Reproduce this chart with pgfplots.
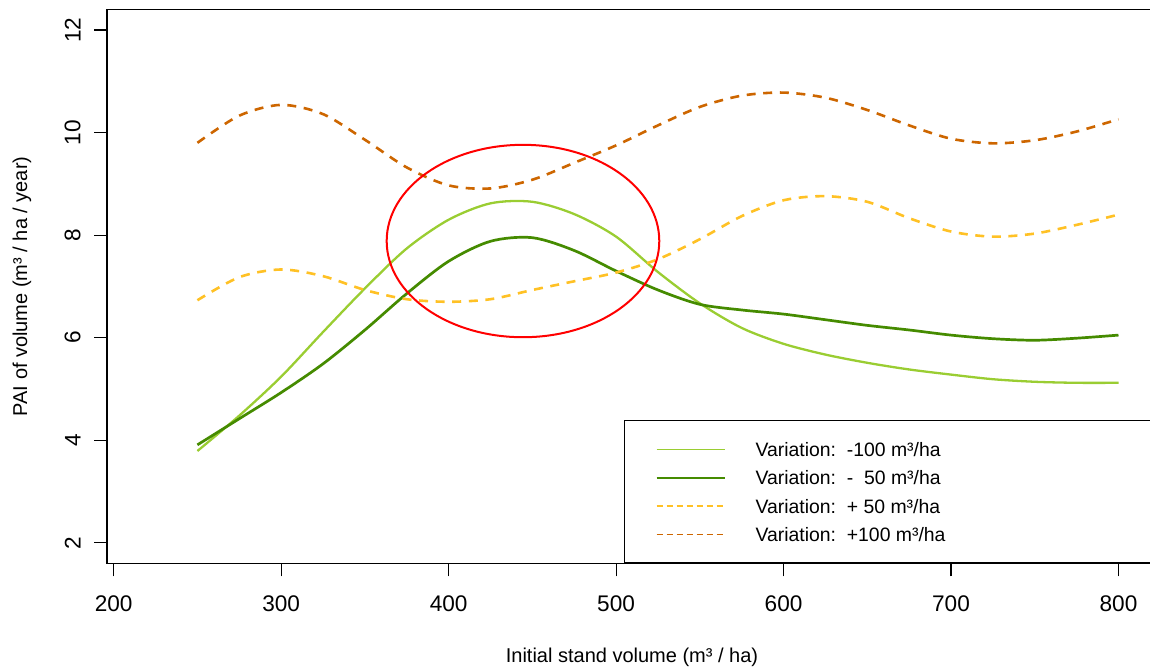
\documentclass[border=0pt]{standalone}
\usepackage{pgfplots}
\pgfplotsset{compat=1.18}
\usepackage{fontspec}
\setmainfont{Liberation Sans}
\definecolor{lgreen}{RGB}{154,205,50}
\definecolor{dgreen}{RGB}{69,139,0}
\definecolor{gold}{RGB}{255,193,37}
\definecolor{dorange}{RGB}{205,102,0}
\begin{document}
\begin{tikzpicture}
\path[use as bounding box] (-53.5pt,-52.85pt) rectangle (521.5pt,281.65pt);
\clip (-53.5pt,-52.85pt) rectangle (521.5pt,281.65pt);
\begin{axis}[
  anchor=south west, at={(0pt,0pt)},
  scale only axis, width=525pt, height=276.9pt,
  xmin=196, xmax=823, ymin=1.6, ymax=12.4,
  xtick={200,300,...,800}, ytick={2,4,...,12},
  xtick pos=left, ytick pos=left,
  tick align=outside, major tick length=6.5pt,
  axis line style={line width=0.6pt},
  every tick/.style={black, line width=0.6pt},
  /pgf/number format/assume math mode=true,
  tick label style={font=\fontsize{11.3}{13}\selectfont},
  xticklabel style={yshift=-6.4pt},
  yticklabel style={xshift=-3.2pt, rotate=90, anchor=south},
  xlabel={Initial stand volume (m³ / ha)},
  ylabel={PAI of volume (m³ / ha / year)},
  label style={font=\fontsize{10.8}{13}\selectfont},
  every axis x label/.style={at={(axis description cs:0.5,-0.169)}, anchor=center},
  every axis y label/.style={at={(axis description cs:-0.081,0.5)}, rotate=90, anchor=center},
  legend style={at={(axis cs:504.7,4.393)}, anchor=north west, draw=black, line width=0.6pt,
    fill=white, inner xsep=0pt, inner ysep=7.2pt, row sep=0pt, column sep=0pt,
    font=\fontsize{9.7}{11}\selectfont,
    nodes={inner sep=0pt, text depth=0pt, anchor=west},
    cells={anchor=west}},
  legend image code/.code={\path[draw=none,fill=none] (0pt,-7.1pt) rectangle (65.5pt,7.1pt); \draw[#1] (16pt,0pt) -- (50pt,0pt);},
]
\addplot[lgreen, line width=1.15pt, smooth, tension=0.5, legend image post style={line width=0.7pt}] coordinates {
(250,3.79) (275,4.48) (300,5.24) (325,6.11) (350,6.96) (375,7.74) (400,8.30) (425,8.62) (450,8.65) (475,8.41) (500,7.97) (525,7.28) (550,6.67) (575,6.19) (600,5.88) (625,5.67) (650,5.51) (675,5.38) (700,5.28) (725,5.19) (750,5.14) (775,5.12) (800,5.12)};
\addlegendentry{\makebox[220pt][l]{Variation:\ \ -100 m³/ha}}
\addplot[dgreen, line width=1.35pt, smooth, tension=0.5, legend image post style={line width=0.9pt}] coordinates {
(250,3.91) (275,4.42) (300,4.93) (325,5.49) (350,6.15) (375,6.86) (400,7.49) (425,7.88) (450,7.95) (475,7.70) (500,7.30) (525,6.93) (550,6.65) (575,6.54) (600,6.46) (625,6.35) (650,6.24) (675,6.15) (700,6.05) (725,5.98) (750,5.95) (775,5.99) (800,6.05)};
\addlegendentry{Variation:\ \ -\ \ 50 m³/ha}
\addplot[gold, line width=1.3pt, smooth, tension=0.5, dash pattern=on 4.5pt off 3.8pt, legend image post style={line width=0.7pt, dash pattern=on 3pt off 2pt}] coordinates {
(250,6.73) (275,7.18) (300,7.33) (325,7.20) (350,6.93) (375,6.75) (400,6.70) (425,6.75) (450,6.93) (475,7.10) (500,7.27) (525,7.53) (550,7.92) (575,8.37) (600,8.68) (625,8.76) (650,8.65) (675,8.33) (700,8.07) (725,7.97) (750,8.03) (775,8.20) (800,8.40)};
\addlegendentry{Variation:\ \ + 50 m³/ha}
\addplot[dorange, line width=1.3pt, smooth, tension=0.5, dash pattern=on 4.5pt off 3.8pt, legend image post style={line width=0.7pt, dash pattern=on 3pt off 2pt}] coordinates {
(250,9.80) (275,10.33) (300,10.54) (325,10.36) (350,9.86) (375,9.32) (400,8.97) (425,8.91) (450,9.08) (475,9.41) (500,9.75) (525,10.14) (550,10.50) (575,10.72) (600,10.78) (625,10.68) (650,10.44) (675,10.14) (700,9.88) (725,9.79) (750,9.85) (775,10.02) (800,10.26)};
\addlegendentry{Variation:\ \ +100 m³/ha}
\draw[red, line width=1pt] (axis cs:444.4,7.885) ellipse [x radius=68.15pt, y radius=48.1pt];
\end{axis}
\end{tikzpicture}
\end{document}
